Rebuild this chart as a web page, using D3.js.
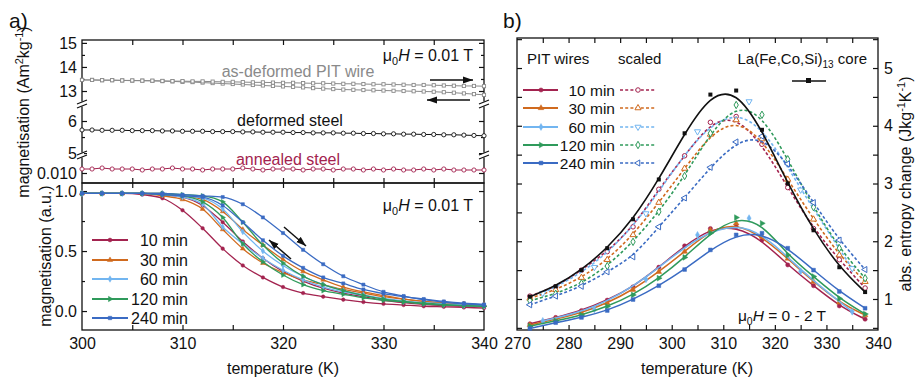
<!DOCTYPE html>
<html><head><meta charset="utf-8">
<script src="https://cdn.jsdelivr.net/npm/d3@7/dist/d3.min.js"></script>
<style>
html,body{margin:0;padding:0;background:#fff;}
svg{display:block;font-family:"Liberation Sans",Arial,Helvetica,sans-serif;}
</style></head>
<body>
<svg id="chart" width="917" height="378"></svg>
<script>
// ================= DATA =================
// Panel a, upper part (broken axis)
const topTemps = [300,301,302,303,304,305,306,307,308,309,310,311,312,313,314,315,316,317,318,319,320,321,322,323,324,325,326,327,328,329,330,331,332,333,334,335,336,337,338,339,340];
const asDeformedHeat = [13.46,13.46,13.45,13.45,13.44,13.44,13.43,13.43,13.42,13.41,13.41,13.40,13.40,13.39,13.38,13.38,13.37,13.36,13.36,13.35,13.34,13.34,13.33,13.32,13.32,13.31,13.30,13.30,13.29,13.28,13.28,13.27,13.26,13.25,13.25,13.24,13.23,13.22,13.21,13.21,13.20];
const asDeformedCool = [13.46,13.46,13.45,13.45,13.44,13.43,13.43,13.42,13.41,13.40,13.38,13.37,13.35,13.33,13.31,13.29,13.27,13.25,13.23,13.21,13.19,13.17,13.15,13.12,13.10,13.08,13.06,13.05,13.04,13.03,13.02,13.01,13.00,12.99,12.98,12.97,12.95,12.93,12.90,12.87,12.84];
const deformedSteel = [5.72,5.72,5.71,5.71,5.71,5.70,5.70,5.70,5.69,5.69,5.68,5.68,5.68,5.67,5.67,5.67,5.66,5.66,5.65,5.65,5.65,5.64,5.64,5.63,5.63,5.63,5.62,5.62,5.61,5.61,5.60,5.60,5.59,5.59,5.58,5.58,5.57,5.57,5.56,5.55,5.54];
const annealedSteel = [0.0104,0.0104,0.0105,0.0104,0.0104,0.0104,0.0103,0.0104,0.0104,0.0105,0.0104,0.0104,0.0103,0.0104,0.0104,0.0104,0.0105,0.0104,0.0103,0.0104,0.0104,0.0104,0.0103,0.0104,0.0104,0.0103,0.0104,0.0104,0.0103,0.0104,0.0103,0.0104,0.0103,0.0103,0.0104,0.0103,0.0104,0.0103,0.0103,0.0103,0.0103];
const topTicksSeg1 = [13,14,15];
const topTicksSeg2 = [5,6];
const topTicksSeg3 = [0.010];

// Panel a, lower part (normalised magnetisation, heating & cooling)
const bottomTemps = [300,302,304,306,308,310,312,314,316,318,320,322,324,326,328,330,332,334,336,338,340];
const annealLabels = ["10 min","30 min","60 min","120 min","240 min"];
const cooling10  = [0.98,0.98,0.98,0.97,0.94,0.84,0.69,0.52,0.38,0.28,0.20,0.15,0.12,0.095,0.075,0.06,0.05,0.04,0.035,0.03,0.025];
const heating10  = [0.98,0.98,0.98,0.98,0.97,0.95,0.88,0.74,0.58,0.44,0.33,0.25,0.19,0.15,0.12,0.09,0.07,0.055,0.045,0.04,0.035];
const cooling30  = [0.98,0.98,0.98,0.98,0.96,0.93,0.85,0.68,0.52,0.40,0.32,0.26,0.22,0.18,0.15,0.12,0.10,0.08,0.065,0.055,0.05];
const heating30  = [0.98,0.98,0.98,0.98,0.98,0.96,0.93,0.83,0.68,0.55,0.43,0.33,0.26,0.20,0.16,0.13,0.10,0.08,0.07,0.06,0.05];
const cooling60  = [0.98,0.98,0.98,0.98,0.97,0.95,0.89,0.70,0.56,0.44,0.34,0.26,0.20,0.16,0.13,0.10,0.08,0.065,0.055,0.045,0.04];
const heating60  = [0.98,0.98,0.98,0.98,0.98,0.96,0.94,0.85,0.66,0.50,0.38,0.29,0.22,0.17,0.135,0.105,0.085,0.07,0.06,0.05,0.045];
const cooling120 = [0.98,0.98,0.98,0.98,0.97,0.96,0.91,0.78,0.56,0.41,0.30,0.22,0.17,0.14,0.11,0.09,0.075,0.06,0.05,0.045,0.04];
const heating120 = [0.98,0.98,0.98,0.98,0.98,0.97,0.96,0.91,0.74,0.55,0.40,0.29,0.22,0.17,0.13,0.10,0.08,0.065,0.055,0.045,0.04];
const cooling240 = [0.98,0.98,0.98,0.98,0.97,0.96,0.95,0.88,0.74,0.59,0.46,0.36,0.28,0.23,0.18,0.145,0.12,0.10,0.08,0.065,0.055];
const heating240 = [0.98,0.98,0.98,0.98,0.98,0.97,0.96,0.95,0.89,0.78,0.65,0.51,0.39,0.29,0.22,0.16,0.125,0.095,0.075,0.06,0.05];
const xTicksA = [300,310,320,330,340];
const yTicksA4 = [0.0,0.5,1.0];

// Panel b (entropy change)
const entropyTemps   = [272.5,277.5,282.5,287.5,292.5,297.5,302.5,307.5,312.5,317.5,322.5,327.5,332.5,337.5];
const entropyTemps60 = [275,285,295,305,315,325,335];
const coreEntropy = [1.04,1.22,1.50,1.88,2.38,3.07,3.87,4.54,4.61,3.93,3.00,2.19,1.55,1.12];
const pit10  = [0.57,0.68,0.80,0.98,1.21,1.55,1.92,2.22,2.25,2.02,1.59,1.23,0.88,0.65];
const pit30  = [0.55,0.65,0.76,0.93,1.16,1.47,1.82,2.19,2.31,2.08,1.70,1.30,0.94,0.72];
const pit60  = [0.62,0.82,1.34,2.11,2.40,1.48,0.78];
const pit120 = [0.53,0.62,0.72,0.87,1.07,1.36,1.72,2.14,2.41,2.31,1.76,1.39,1.01,0.74];
const pit240 = [0.49,0.59,0.68,0.80,0.99,1.23,1.51,1.85,2.11,2.14,1.88,1.50,1.13,0.84];
const scaled10  = [1.05,1.21,1.50,1.82,2.25,2.90,3.48,4.06,4.16,3.68,2.93,2.22,1.68,1.19];
const scaled30  = [1.01,1.16,1.37,1.68,2.11,2.67,3.26,3.85,4.10,3.77,3.07,2.38,1.76,1.30];
const scaled60  = [1.10,1.55,2.48,3.90,4.42,2.89,1.53];
const scaled120 = [0.97,1.09,1.27,1.57,1.99,2.51,3.13,3.87,4.36,4.19,3.42,2.59,1.88,1.36];
const scaled240 = [0.90,1.05,1.22,1.47,1.73,2.25,2.75,3.28,3.72,3.82,3.34,2.67,2.02,1.51];
const xTicksB = [270,280,290,300,310,320,330,340];
const yTicksB = [1,2,3,4,5];

// ================= STYLE =================
const colors = ["#a3234f","#d06a1e","#72b5f0","#2f9a5b","#3a6bc3"];
const gray = "#8a8a8a", ink = "#111";
const FONT = "'Liberation Sans', Arial, Helvetica, sans-serif";

const svg = d3.select("#chart");
const defs = svg.append("defs");
defs.append("marker").attr("id","arr").attr("viewBox","0 0 10 8").attr("refX",10).attr("refY",4)
  .attr("markerUnits","userSpaceOnUse").attr("markerWidth",10).attr("markerHeight",8).attr("orient","auto")
  .append("path").attr("d","M0,0.5 L10,4 L0,7.5 Z").attr("fill",ink);

// ================= SCALES =================
const xA  = d3.scaleLinear().domain([300,340]).range([82,484]);
const yA1 = d3.scaleLinear().domain([12.46,15.12]).range([104,40]);
const yA2 = d3.scaleLinear().domain([4.94,6.53]).range([155,104]);
const yA3 = d3.scaleLinear().domain([0.0090,0.0118]).range([183,155]);
const yA4 = d3.scaleLinear().domain([-0.158,1.067]).range([330,183]);
const xB  = d3.scaleLinear().domain([270,340]).range([517,878]);
const yB  = d3.scaleLinear().domain([0.463,5.52]).range([330,38]);

// ================= HELPERS =================
function axis(gen, tr, values, size, fmt, fs, pad){
  const g = svg.append("g").attr("transform", tr)
    .call(gen.tickValues(values).tickSizeInner(size).tickSizeOuter(0).tickPadding(pad==null?6:pad).tickFormat(fmt || (()=>"")));
  g.attr("font-family", FONT).attr("font-size", fs||16);
  g.select(".domain").remove();
  g.selectAll(".tick line").attr("stroke", ink).attr("stroke-width", 1.2);
  g.selectAll(".tick text").attr("fill", ink);
  return g;
}
function pairs(xs, ys){ return xs.map((x,i)=>[x, ys[i]]).filter(d=>d[1]!=null); }
const symTypes = [d3.symbolCircle, d3.symbolTriangle, d3.symbolDiamond, d3.symbolTriangle, d3.symbolSquare];
const symRot   = [0, 0, 0, 90, 0];
const openTypes = [d3.symbolCircle, d3.symbolTriangle, d3.symbolTriangle, d3.symbolDiamond, d3.symbolTriangle];
const openRot   = [0, 0, 180, 0, -90];

// ================= PANEL a : frames =================
svg.append("rect").attr("x",82).attr("y",40).attr("width",402).attr("height",143).attr("fill","none").attr("stroke",ink).attr("stroke-width",1.3);
svg.append("rect").attr("x",82).attr("y",183).attr("width",402).attr("height",147).attr("fill","none").attr("stroke",ink).attr("stroke-width",1.3);

const xMinorA = [305,310,315,320,325,330,335];
axis(d3.axisTop(xA), "translate(0,40)", xMinorA, -5);
axis(d3.axisBottom(xA), "translate(0,183)", xMinorA, -5);
axis(d3.axisTop(xA), "translate(0,183)", xMinorA, -5);
axis(d3.axisBottom(xA), "translate(0,330)", xMinorA, -5);
axis(d3.axisBottom(xA), "translate(0,330)", xTicksA, 0, d3.format("d"), 16, 8);

// left & right y axes upper (broken)
axis(d3.axisLeft(yA1), "translate(82,0)", topTicksSeg1, -5, d3.format("d"), 16, 5);
axis(d3.axisLeft(yA1), "translate(82,0)", [13.5,14.5], -3);
axis(d3.axisLeft(yA2), "translate(82,0)", topTicksSeg2, -5, d3.format("d"), 16, 5);
axis(d3.axisLeft(yA2), "translate(82,0)", [5.5], -3);
axis(d3.axisLeft(yA3), "translate(82,0)", topTicksSeg3, -5, d3.format(".3f"), 16, 5);
axis(d3.axisRight(yA1), "translate(484,0)", topTicksSeg1, -5);
axis(d3.axisRight(yA1), "translate(484,0)", [13.5,14.5], -3);
axis(d3.axisRight(yA2), "translate(484,0)", topTicksSeg2, -5);
axis(d3.axisRight(yA2), "translate(484,0)", [5.5], -3);
axis(d3.axisRight(yA3), "translate(484,0)", topTicksSeg3, -5);
// lower y axes
axis(d3.axisLeft(yA4), "translate(82,0)", yTicksA4, -5, d3.format(".1f"), 16, 5);
axis(d3.axisLeft(yA4), "translate(82,0)", [0.25,0.75], -3);
axis(d3.axisRight(yA4), "translate(484,0)", [0,0.25,0.5,0.75,1.0], -5);

// axis breaks
[[82,yA1.range()[0]],[82,yA2.range()[0]],[484,yA1.range()[0]],[484,yA2.range()[0]]].forEach(([x,y])=>{
  svg.append("rect").attr("x",x-2).attr("y",y-2.5).attr("width",4).attr("height",5).attr("fill","#fff");
  svg.append("line").attr("x1",x-5).attr("y1",y).attr("x2",x+5).attr("y2",y-4).attr("stroke",ink).attr("stroke-width",1.2);
  svg.append("line").attr("x1",x-5).attr("y1",y+4).attr("x2",x+5).attr("y2",y).attr("stroke",ink).attr("stroke-width",1.2);
});

// upper curves
const lineTop = (ys)=> d3.line().x(d=>xA(d[0])).y(d=>ys(d[1]));
function topSeries(vals, ys, color, kind){
  const pts = pairs(topTemps, vals);
  svg.append("path").attr("d", lineTop(ys)(pts)).attr("fill","none").attr("stroke",color).attr("stroke-width",1);
  const g = svg.append("g");
  if(kind==="sq"){
    g.selectAll("rect").data(pts).join("rect").attr("x",d=>xA(d[0])-1.6).attr("y",d=>ys(d[1])-1.6)
      .attr("width",3.2).attr("height",3.2).attr("fill","#fff").attr("stroke",color).attr("stroke-width",0.9);
  } else {
    g.selectAll("circle").data(pts).join("circle").attr("cx",d=>xA(d[0])).attr("cy",d=>ys(d[1])).attr("r",2.1)
      .attr("fill","#fff").attr("stroke",color).attr("stroke-width",0.9);
  }
}
topSeries(asDeformedCool, yA1, gray, "sq");
topSeries(asDeformedHeat, yA1, gray, "sq");
topSeries(deformedSteel, yA2, ink, "circ");
topSeries(annealedSteel, yA3, colors[0], "circ");

function txt(x,y,s,opts){
  opts = opts||{};
  return svg.append("text").attr("x",x).attr("y",y).attr("font-size",opts.fs||16).attr("fill",opts.fill||ink)
    .attr("text-anchor",opts.anchor||"start").attr("font-family",FONT).text(s);
}
txt(298,77,"as-deformed PIT wire",{fill:gray,anchor:"middle"});
txt(290,126,"deformed steel",{anchor:"middle"});
txt(288,165,"annealed steel",{fill:colors[0],anchor:"middle"});

function muH(x,y,rest,fs){
  const t = svg.append("text").attr("x",x).attr("y",y).attr("font-size",fs).attr("fill",ink).attr("text-anchor","end").attr("font-family",FONT);
  t.append("tspan").text("\u03bc");
  t.append("tspan").attr("font-size",fs*0.68).attr("dy",4).text("0");
  t.append("tspan").attr("dy",-4).attr("font-style","italic").text("H");
  t.append("tspan").text(rest);
  return t;
}
muH(473,61,"\u00a0= 0.01 T",16);
muH(473,211,"\u00a0= 0.01 T",16);

// arrows upper
svg.append("line").attr("x1",430).attr("y1",80).attr("x2",473).attr("y2",80).attr("stroke",ink).attr("stroke-width",1.5).attr("marker-end","url(#arr)");
svg.append("line").attr("x1",470).attr("y1",100).attr("x2",427).attr("y2",100).attr("stroke",ink).attr("stroke-width",1.5).attr("marker-end","url(#arr)");
// arrows lower
svg.append("line").attr("x1",284).attr("y1",227).attr("x2",306).attr("y2",246).attr("stroke",ink).attr("stroke-width",1.5).attr("marker-end","url(#arr)");
svg.append("line").attr("x1",291).attr("y1",259).attr("x2",269).attr("y2",240).attr("stroke",ink).attr("stroke-width",1.5).attr("marker-end","url(#arr)");

// lower curves
const heats = [heating10,heating30,heating60,heating120,heating240];
const cools = [cooling10,cooling30,cooling60,cooling120,cooling240];
const lineLow = d3.line().x(d=>xA(d[0])).y(d=>yA4(d[1])).curve(d3.curveMonotoneX);
function drawSym(g, pts, xs, ys, i, size, open, color){
  const type = open ? openTypes[i] : symTypes[i];
  const rot = open ? openRot[i] : symRot[i];
  g.selectAll(null).data(pts).join("path")
    .attr("d", d3.symbol().type(type).size(size)())
    .attr("transform", d=>`translate(${xs(d[0])},${ys(d[1])}) rotate(${rot})`)
    .attr("fill", open ? "#fff" : color).attr("stroke", color).attr("stroke-width", open?1:0.5);
}
annealLabels.forEach((lab,i)=>{
  [cools[i], heats[i]].forEach(vals=>{
    const pts = pairs(bottomTemps, vals);
    svg.append("path").attr("d", lineLow(pts)).attr("fill","none").attr("stroke",colors[i]).attr("stroke-width",1.3);
    drawSym(svg.append("g"), pts, xA, yA4, i, 10, false, colors[i]);
  });
});

// legend a
const legA = [240,260,279,299,318];
annealLabels.forEach((lab,i)=>{
  const y = legA[i];
  svg.append("line").attr("x1",92).attr("y1",y).attr("x2",128).attr("y2",y).attr("stroke",colors[i]).attr("stroke-width",2);
  drawSym(svg.append("g"), [[110,y]], d=>d, d=>d, i, 12, false, colors[i]);
  txt(188,y+6,lab,{anchor:"end"});
});

// axis titles a
function rotTitle(x,y,parts,fs){
  const t = svg.append("text").attr("transform",`translate(${x},${y}) rotate(-90)`).attr("text-anchor","middle")
    .attr("font-size",fs).attr("fill",ink).attr("font-family",FONT);
  parts.forEach(p=>{
    const s = t.append("tspan").text(p[0]);
    if(p[1]==="sup"){ s.attr("font-size",fs*0.68).attr("dy",-6); }
    if(p[1]==="base"){ s.attr("dy",6); }
  });
}
rotTitle(29,112,[["magnetisation (Am"],["2","sup"],["kg","base"],["-1","sup"],[")","base"]],16);
rotTitle(51,256,[["magnetisation (a.u.)"]],16);
txt(283,374,"temperature (K)",{anchor:"middle"});
txt(9,28,"a)",{fs:21});

// ================= PANEL b =================
svg.append("rect").attr("x",517).attr("y",38).attr("width",361).attr("height",292).attr("fill","none").attr("stroke",ink).attr("stroke-width",1.3);
const xMinorB = [275,280,285,290,295,300,305,310,315,320,325,330,335];
axis(d3.axisTop(xB), "translate(0,38)", xMinorB, -5);
axis(d3.axisBottom(xB), "translate(0,330)", xMinorB, -5);
axis(d3.axisBottom(xB), "translate(0,330)", xTicksB, 0, d3.format("d"), 16, 8);
const yMinorB = [0.5,1,1.5,2,2.5,3,3.5,4,4.5,5,5.5].filter(v=>v>=0.5);
axis(d3.axisLeft(yB), "translate(517,0)", yMinorB, -5);
axis(d3.axisRight(yB), "translate(878,0)", yMinorB, -5);
axis(d3.axisRight(yB), "translate(878,0)", yTicksB, 0, d3.format("d"), 16, 6);

const lineB = d3.line().x(d=>xB(d[0])).y(d=>yB(d[1])).curve(d3.curveBasis);
const pits = [pit10,pit30,pit60,pit120,pit240];
const scaleds = [scaled10,scaled30,scaled60,scaled120,scaled240];
const tempsFor = i => i===2 ? entropyTemps60 : entropyTemps;

// scaled dashed
scaleds.forEach((vals,i)=>{
  const pts = pairs(tempsFor(i), vals);
  svg.append("path").attr("d", lineB(pts)).attr("fill","none").attr("stroke",colors[i]).attr("stroke-width",1.6).attr("stroke-dasharray","3,2.2");
  drawSym(svg.append("g"), pts, xB, yB, i, 16, true, colors[i]);
});
// PIT solid
pits.forEach((vals,i)=>{
  const pts = pairs(tempsFor(i), vals);
  svg.append("path").attr("d", lineB(pts)).attr("fill","none").attr("stroke",colors[i]).attr("stroke-width",1.5);
  drawSym(svg.append("g"), pts, xB, yB, i, 14, false, colors[i]);
});
// core
const corePts = pairs(entropyTemps, coreEntropy);
svg.append("path").attr("d", lineB(corePts)).attr("fill","none").attr("stroke",ink).attr("stroke-width",1.6);
svg.append("g").selectAll("rect").data(corePts).join("rect")
  .attr("x",d=>xB(d[0])-2).attr("y",d=>yB(d[1])-2).attr("width",4).attr("height",4).attr("fill",ink);

// legend b
txt(527,64,"PIT wires",{fs:15});
txt(618,64,"scaled",{fs:15});
const core = svg.append("text").attr("x",867).attr("y",64).attr("text-anchor","end").attr("font-size",15).attr("fill",ink).attr("font-family",FONT);
core.append("tspan").text("La(Fe,Co,Si)");
core.append("tspan").attr("font-size",10).attr("dy",4).text("13");
core.append("tspan").attr("dy",-4).text("\u00a0core");
svg.append("line").attr("x1",792).attr("y1",81).attr("x2",826).attr("y2",81).attr("stroke",ink).attr("stroke-width",1.6);
svg.append("rect").attr("x",806).attr("y",78).attr("width",5).attr("height",5).attr("fill",ink);

const legB = [90,108,127,145,163];
annealLabels.forEach((lab,i)=>{
  const y = legB[i];
  svg.append("line").attr("x1",523).attr("y1",y).attr("x2",558).attr("y2",y).attr("stroke",colors[i]).attr("stroke-width",1.8);
  drawSym(svg.append("g"), [[541,y]], d=>d, d=>d, i, 14, false, colors[i]);
  txt(615,y+5.5,lab,{anchor:"end",fs:15.5});
  svg.append("line").attr("x1",620).attr("y1",y).attr("x2",656).attr("y2",y).attr("stroke",colors[i]).attr("stroke-width",1.6).attr("stroke-dasharray","3,2.2");
  drawSym(svg.append("g"), [[638,y]], d=>d, d=>d, i, 16, true, colors[i]);
});

// mu0H b
(function(){
  const t = svg.append("text").attr("x",782).attr("y",321).attr("font-size",15.5).attr("fill",ink).attr("text-anchor","middle").attr("font-family",FONT);
  t.append("tspan").text("\u03bc");
  t.append("tspan").attr("font-size",10.5).attr("dy",4).text("0");
  t.append("tspan").attr("dy",-4).attr("font-style","italic").text("H");
  t.append("tspan").text("\u00a0= 0 - 2 T");
})();

txt(697,374,"temperature (K)",{anchor:"middle"});
rotTitle(911,184,[["abs. entropy change (Jkg"],["-1","sup"],["K","base"],["-1","sup"],[")","base"]],16);
txt(503,28,"b)",{fs:21});
</script>
</body></html>
